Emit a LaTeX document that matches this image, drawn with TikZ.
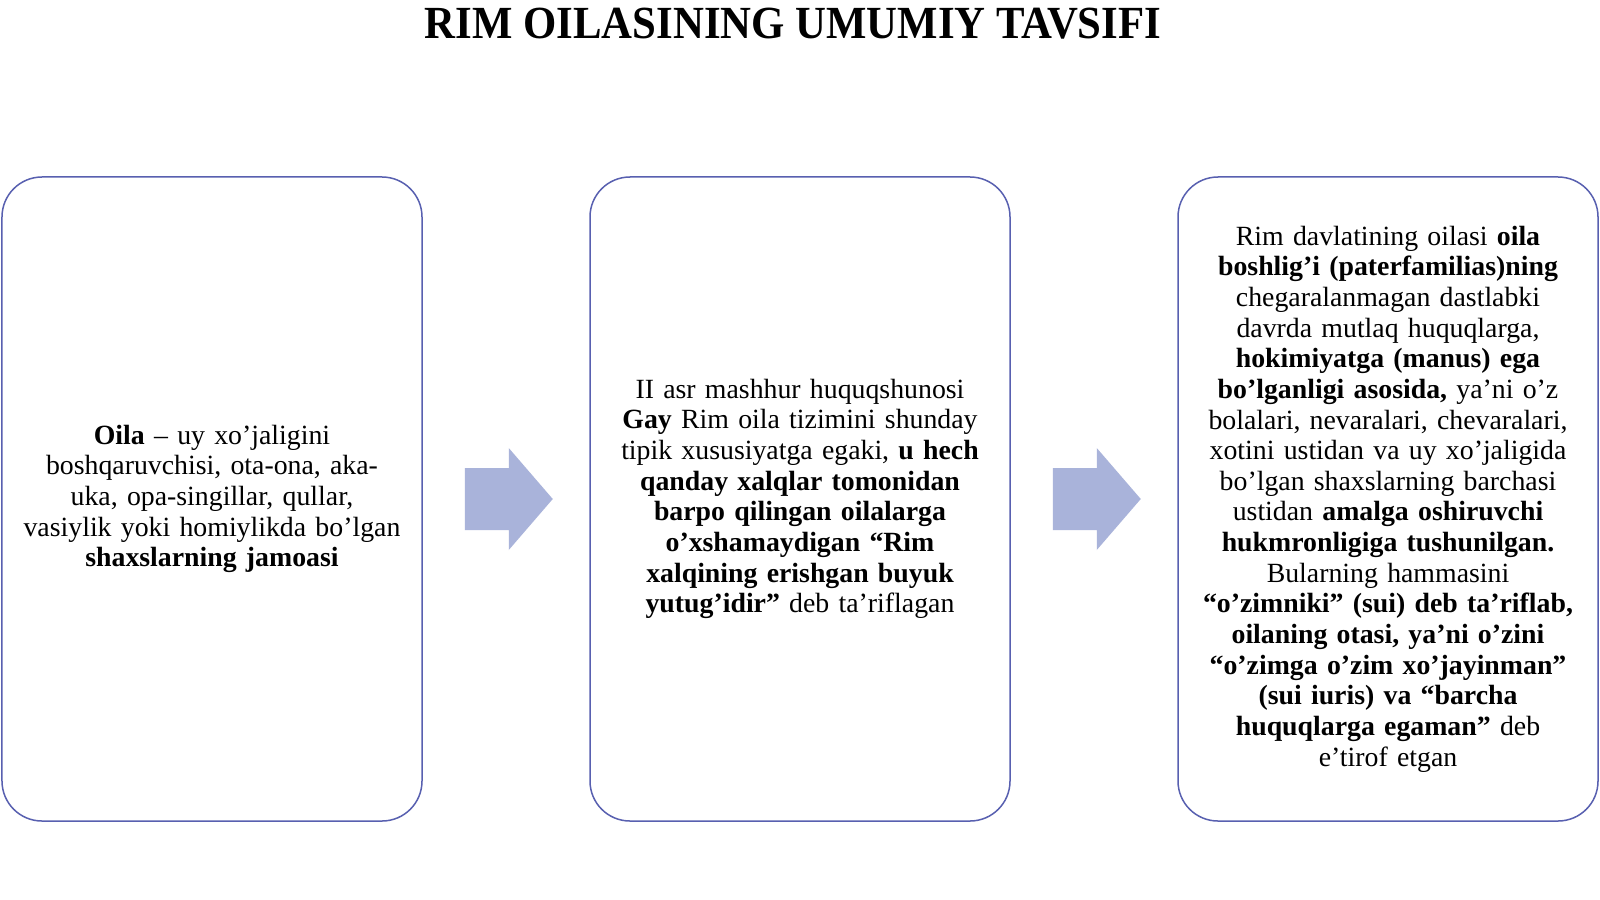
\documentclass[tikz,border=0pt]{standalone}
\usepackage{fontspec}
\setmainfont{Liberation Serif}
\newfontfamily\titlefont[FakeStretch=0.93]{Liberation Serif}
\definecolor{boxline}{RGB}{88,96,176}
\definecolor{arrowfill}{RGB}{169,179,218}
\begin{document}
\begin{tikzpicture}[x=1bp,y=-1bp,
  card/.style={draw=boxline, line width=1.5bp, rounded corners=40bp, fill=white,
    minimum width=420bp, minimum height=644bp, text width=404bp, align=center,
    inner sep=0pt, font=\fontsize{27.8bp}{30.65bp}\selectfont},
  blockarrow/.style={fill=arrowfill, draw=none},
  titletext/.style={font=\titlefont\bfseries\fontsize{46bp}{50bp}\selectfont, anchor=base, inner sep=0pt}
]
\useasboundingbox (0,0) rectangle (1600,899);
\fill[white] (0,0) rectangle (1600,899);

\node[titletext] (title) at (793,38) {RIM OILASINING UMUMIY TAVSIFI};

\node[card] (b1) at (212,499) {\textbf{Oila} – uy xo’jaligini\\
boshqaruvchisi, ota-ona, aka-\\
uka, opa-singillar, qullar,\\
vasiylik yoki homiylikda bo’lgan\\
\textbf{shaxslarning jamoasi}};

\node[card] (b2) at (800,499) {II asr mashhur huquqshunosi\\
\textbf{Gay} Rim oila tizimini shunday\\
tipik xususiyatga egaki, \textbf{u hech}\\
\textbf{qanday xalqlar tomonidan}\\
\textbf{barpo qilingan oilalarga}\\
\textbf{o’xshamaydigan “Rim}\\
\textbf{xalqining erishgan buyuk}\\
\textbf{yutug’idir”} deb ta’riflagan};

\node[card] (b3) at (1388,499) {Rim davlatining oilasi \textbf{oila}\\
\textbf{boshlig’i (paterfamilias)ning}\\
chegaralanmagan dastlabki\\
davrda mutlaq huquqlarga,\\
\textbf{hokimiyatga (manus) ega}\\
\textbf{bo’lganligi asosida,} ya’ni o’z\\
bolalari, nevaralari, chevaralari,\\
xotini ustidan va uy xo’jaligida\\
bo’lgan shaxslarning barchasi\\
ustidan \textbf{amalga oshiruvchi}\\
\textbf{hukmronligiga tushunilgan.}\\
Bularning hammasini\\
\textbf{“o’zimniki” (sui) deb ta’riflab,}\\
\textbf{oilaning otasi, ya’ni o’zini}\\
\textbf{“o’zimga o’zim xo’jayinman”}\\
\textbf{(sui iuris) va “barcha}\\
\textbf{huquqlarga egaman”} deb\\
e’tirof etgan};

\begin{scope}[shift={(b1.east)}]
  \fill[blockarrow] (42,-31) -- (86,-31) -- (86,-51) -- (130,0) -- (86,51) -- (86,31) -- (42,31) -- cycle;
\end{scope}
\begin{scope}[shift={(b2.east)}]
  \fill[blockarrow] (42,-31) -- (86,-31) -- (86,-51) -- (130,0) -- (86,51) -- (86,31) -- (42,31) -- cycle;
\end{scope}
\end{tikzpicture}
\end{document}
